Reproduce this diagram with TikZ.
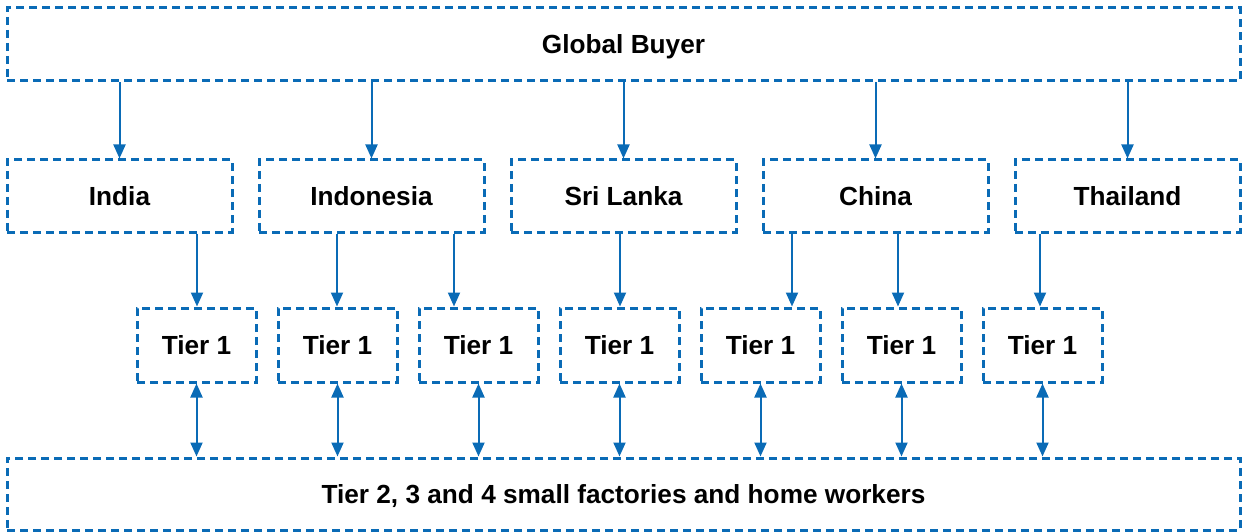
\documentclass[tikz,border=0pt]{standalone}
\usepackage{fontspec}
\setmainfont{Liberation Sans}
\usetikzlibrary{arrows.meta}
\definecolor{lineblue}{RGB}{10,107,182}
\begin{document}
\begin{tikzpicture}[x=1pt,y=-1pt,
  box/.style={draw=lineblue, line width=3pt, dash pattern=on 8pt off 5pt, inner sep=0pt,
    text height=18.8pt, text depth=0pt,
    font=\fontsize{26.2}{30}\selectfont\bfseries},
  conn/.style={draw=lineblue, line width=2pt, -{Triangle[length=14pt,width=12pt]}},
  dconn/.style={draw=lineblue, line width=2pt, {Triangle[length=14pt,width=12pt]}-{Triangle[length=14pt,width=12pt]}}]
\useasboundingbox (0,0) rectangle (1243,532);
% Global buyer
\node[box, minimum width=1233pt, minimum height=73pt] (gb) at (623.5,44.5) {Global Buyer};
% countries
\foreach \n/\t [count=\i from 0] in {india/India,indonesia/Indonesia,srilanka/Sri Lanka,china/China,thailand/Thailand}{
  \node[box, minimum width=225pt, minimum height=72pt] (\n) at ({119.5+252*\i},196) {\t};
}
% tier 1
\foreach \i in {1,...,7}{
  \node[box, minimum width=119pt, minimum height=74pt] (t\i) at ({196.5+141*(\i-1)},345) {Tier 1};
}
% bottom
\node[box, minimum width=1233pt, minimum height=72pt] (bot) at (623.5,494) {Tier 2, 3 and 4 small factories and home workers};
% arrows from global buyer
\foreach \n in {india,indonesia,srilanka,china,thailand}{
  \draw[conn] (gb.south -| \n.north) -- (\n.north);
}
% country to tier
\coordinate (c1) at (197,0);
\coordinate (c2) at (337,0);
\coordinate (c3) at (454,0);
\coordinate (c4) at (620,0);
\coordinate (c5) at (792,0);
\coordinate (c6) at (898,0);
\coordinate (c7) at (1040,0);
\draw[conn] (india.south -| c1) -- (t1.north -| c1);
\draw[conn] (indonesia.south -| c2) -- (t2.north -| c2);
\draw[conn] (indonesia.south -| c3) -- (t3.north -| c3);
\draw[conn] (srilanka.south -| c4) -- (t4.north -| c4);
\draw[conn] (china.south -| c5) -- (t5.north -| c5);
\draw[conn] (china.south -| c6) -- (t6.north -| c6);
\draw[conn] (thailand.south -| c7) -- (t7.north -| c7);
% tier to bottom
\foreach \i in {1,...,7}{
  \draw[dconn] (t\i.south) -- (bot.north -| t\i.south);
}
\end{tikzpicture}
\end{document}
